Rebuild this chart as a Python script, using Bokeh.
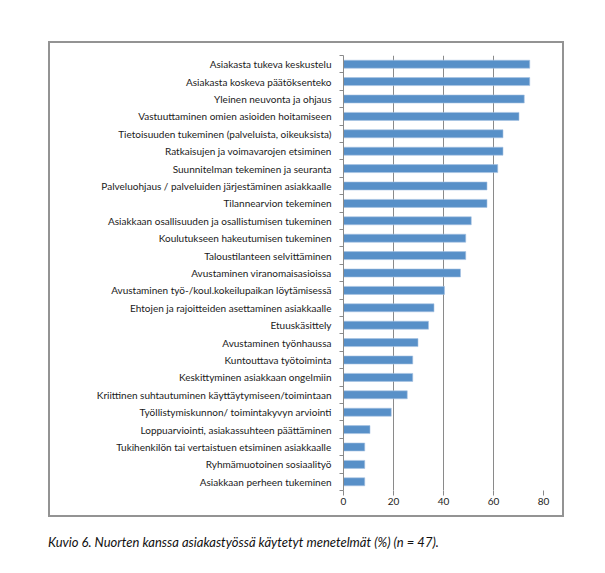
from bokeh.plotting import figure
from bokeh.models import FixedTicker, Div, ColumnDataSource
from bokeh.layouts import column
from bokeh.embed import file_html
from bokeh.resources import INLINE

categories = [
    "Asiakasta tukeva keskustelu",
    "Asiakasta koskeva päätöksenteko",
    "Yleinen neuvonta ja ohjaus",
    "Vastuuttaminen omien asioiden hoitamiseen",
    "Tietoisuuden tukeminen (palveluista, oikeuksista)",
    "Ratkaisujen ja voimavarojen etsiminen",
    "Suunnitelman tekeminen ja seuranta",
    "Palveluohjaus / palveluiden järjestäminen asiakkaalle",
    "Tilannearvion tekeminen",
    "Asiakkaan osallisuuden ja osallistumisen tukeminen",
    "Koulutukseen hakeutumisen tukeminen",
    "Taloustilanteen selvittäminen",
    "Avustaminen viranomaisasioissa",
    "Avustaminen työ-/koul.kokeilupaikan löytämisessä",
    "Ehtojen ja rajoitteiden asettaminen asiakkaalle",
    "Etuuskäsittely",
    "Avustaminen työnhaussa",
    "Kuntouttava työtoiminta",
    "Keskittyminen asiakkaan ongelmiin",
    "Kriittinen suhtautuminen käyttäytymiseen/toimintaan",
    "Työllistymiskunnon/ toimintakyvyn arviointi",
    "Loppuarviointi, asiakassuhteen päättäminen",
    "Tukihenkilön tai vertaistuen etsiminen asiakkaalle",
    "Ryhmämuotoinen sosiaalityö",
    "Asiakkaan perheen tukeminen",
]
values = [74.5, 74.5, 72.3, 70.2, 63.8, 63.8, 61.7, 57.4, 57.4, 51.1,
          48.9, 48.9, 46.8, 40.4, 36.2, 34.0, 29.8, 27.7, 27.7, 25.5,
          19.1, 10.6, 8.5, 8.5, 8.5]
x_ticks = [0, 20, 40, 60, 80]
caption = "Kuvio 6. Nuorten kanssa asiakastyössä käytetyt menetelmät (%) (n = 47)."

n = len(categories)
ypos = [n - i - 0.5 for i in range(n)]
src = ColumnDataSource(dict(y=ypos, v=values, c=categories))

GRAY = "#8a8a8a"
p = figure(width=516, height=476, x_range=(0, 80), y_range=(0, n),
           output_backend="svg", toolbar_location=None,
           min_border_left=293, min_border_right=23,
           min_border_top=12, min_border_bottom=29,
           margin=(41, 0, 0, 48))
p.styles = {"border": "2px solid #939393"}
p.outline_line_color = None
p.background_fill_color = "white"
p.border_fill_color = "white"

p.hbar(y="y", right="v", left=0, height=0.46, source=src,
       fill_color="#5890c8", line_color="#a8c3e3", line_width=0.6)

# x axis
p.xaxis.ticker = FixedTicker(ticks=x_ticks)
p.xaxis.axis_line_color = None
p.xaxis.major_tick_line_color = GRAY
p.xaxis.major_tick_out = 5
p.xaxis.major_tick_in = 0
p.xaxis.minor_tick_line_color = None
p.xaxis.major_label_text_font = "Lato"
p.xaxis.major_label_text_font_size = "10px"
p.xaxis.major_label_text_color = "#222222"
p.xaxis.major_label_standoff = 2
p.xgrid.ticker = FixedTicker(ticks=x_ticks)
p.xgrid.grid_line_color = GRAY
p.xgrid.grid_line_width = 1

# y axis
p.yaxis.ticker = FixedTicker(ticks=ypos, minor_ticks=list(range(n + 1)))
p.yaxis.major_label_overrides = {y: c for y, c in zip(ypos, categories)}
p.yaxis.axis_line_color = GRAY
p.yaxis.major_tick_out = 0
p.yaxis.major_tick_in = 0
p.yaxis.minor_tick_out = 4
p.yaxis.minor_tick_in = 0
p.yaxis.minor_tick_line_color = GRAY
p.yaxis.major_label_standoff = 8
p.yaxis.major_label_text_font = "Lato"
p.yaxis.major_label_text_font_size = "10px"
p.yaxis.major_label_text_color = "#1a1a1a"
p.ygrid.grid_line_color = None

cap = Div(text=caption, margin=(16, 0, 0, 48),
          styles={"font-family": "Lato", "font-style": "italic",
                  "font-size": "13px", "color": "#111111"})

layout = column(p, cap)
open("out.html", "w").write(file_html(layout, INLINE))
